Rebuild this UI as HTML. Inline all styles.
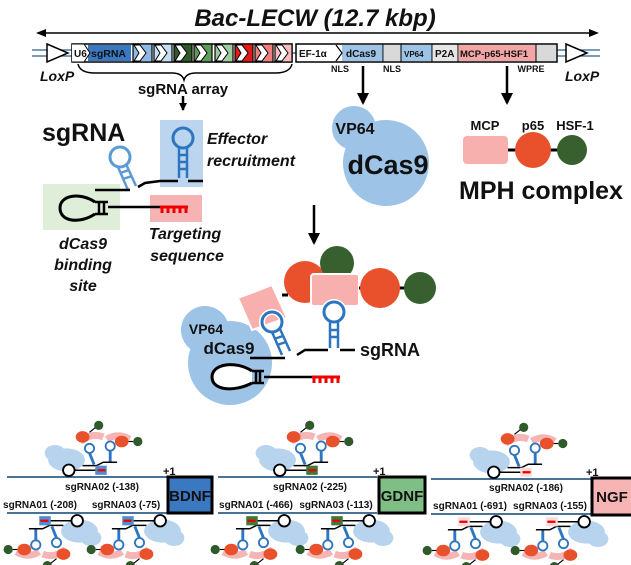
<!DOCTYPE html>
<html><head><meta charset="utf-8"><style>
html,body{margin:0;padding:0;background:#fff}
svg{display:block}
text{font-family:"Liberation Sans",Arial,sans-serif;font-weight:bold;fill:#111}
</style></head><body>
<svg width="631" height="565" viewBox="0 0 631 565" xmlns="http://www.w3.org/2000/svg">
<defs>
<marker id="ah" markerWidth="8" markerHeight="8" refX="7" refY="4" orient="auto" markerUnits="userSpaceOnUse"><path d="M0,0 L8,4 L0,8 Z" fill="#000"/></marker>
<marker id="ah2" markerWidth="12" markerHeight="12" refX="10" refY="6" orient="auto" markerUnits="userSpaceOnUse"><path d="M0,0 L12,6 L0,12 Z" fill="#000"/></marker>
<g id="mini">
  <ellipse cx="-30" cy="-14" rx="16" ry="10" fill="#b7d3ee"/>
  <ellipse cx="-40" cy="-20" rx="9" ry="7" fill="#b7d3ee"/>
  <path d="M-18,-30 q10,-8 20,-4" stroke="#f5b5b5" stroke-width="6" fill="none"/>
  <path d="M5,-32 q10,-6 20,0" stroke="#f5b5b5" stroke-width="6" fill="none"/>
  <ellipse cx="-16" cy="-34" rx="6" ry="5" fill="#e8512b"/>
  <ellipse cx="18" cy="-30" rx="6" ry="5" fill="#e8512b"/>
  <circle cx="-2" cy="-44" r="4" fill="#2f5a2a"/>
  <circle cx="32" cy="-30" r="4" fill="#2f5a2a"/>
  <line x1="-10" y1="-38" x2="-5" y2="-42" stroke="#000" stroke-width="1"/>
  <line x1="24" y1="-30" x2="28" y2="-30" stroke="#000" stroke-width="1"/>
  <circle cx="-10" cy="-24" r="4" fill="none" stroke="#2e75c0" stroke-width="1.6"/>
  <path d="M-10,-20 L-6,-10" stroke="#2e75c0" stroke-width="2.5"/>
  <circle cx="8" cy="-26" r="4" fill="none" stroke="#2e75c0" stroke-width="1.6"/>
  <path d="M8,-22 L8,-12" stroke="#2e75c0" stroke-width="2.5"/>
  <path d="M-16,-9 L-4,-9 L2,-12 L14,-12" stroke="#000" stroke-width="1.3" fill="none"/>
  <circle cx="-28" cy="-5" r="5" fill="#fff" stroke="#000" stroke-width="1.6"/>
  <path d="M-23,-5 L-2,-5" stroke="#000" stroke-width="1.3"/>
  <rect x="-5" y="-9" width="10" height="8" fill="currentColor"/>
  <line x1="-3" y1="-5" x2="4" y2="-5" stroke="#e00" stroke-width="2"/>
</g>
</defs>

<text x="315" y="26" font-size="24" font-style="italic" text-anchor="middle">Bac-LECW (12.7 kbp)</text>
<line x1="46" y1="33" x2="590" y2="33" stroke="#000" stroke-width="1.5"/>
<path d="M36,33 L46,29 L46,37 Z" fill="#000"/><path d="M599,33 L589,29 L589,37 Z" fill="#000"/>

<g stroke="#2e5f8a" stroke-width="1.3">
<line x1="32" y1="50" x2="72" y2="50"/><line x1="32" y1="56" x2="72" y2="56"/>
<line x1="557" y1="50" x2="600" y2="50"/><line x1="557" y1="56" x2="600" y2="56"/>
<line x1="290" y1="53" x2="296" y2="53"/>
</g>
<path d="M47,44 L68,53 L47,62 Z" fill="#fff" stroke="#000" stroke-width="1.5"/>
<path d="M566,44 L587,53 L566,62 Z" fill="#fff" stroke="#000" stroke-width="1.5"/>

<rect x="72" y="44" width="220" height="18" fill="#fff" stroke="#000" stroke-width="1.5"/>
<rect x="88" y="45" width="43" height="16" fill="#3a78c2"/>
<path d="M72,44 L84,44 L90,53 L84,62 L72,62" fill="#fff" stroke="#000" stroke-width="1"/>
<text x="74" y="57" font-size="10">U6</text>
<text x="91" y="57" font-size="10.5" fill="#fff">sgRNA</text>
<g stroke="#000" stroke-width="1.2">
<rect x="133" y="44" width="19" height="18" fill="#8fb8e3"/>
<rect x="154" y="44" width="18" height="18" fill="#c5dcf2"/>
<rect x="174" y="44" width="18" height="18" fill="#2f5a2a"/>
<rect x="194" y="44" width="18" height="18" fill="#5f9c5a"/>
<rect x="215" y="44" width="18" height="18" fill="#9fcc9c"/>
<rect x="235" y="44" width="18" height="18" fill="#e21a1a"/>
<rect x="255" y="44" width="18" height="18" fill="#ef7f7f"/>
<rect x="275" y="44" width="17" height="18" fill="#f7bcbc"/>
</g>
<g fill="#fff" stroke="#000" stroke-width="1">
<path d="M134,45 L140,45 L146,53 L140,61 L134,61 L139,53 Z"/>
<path d="M155,45 L161,45 L167,53 L161,61 L155,61 L160,53 Z"/>
<path d="M175,45 L181,45 L187,53 L181,61 L175,61 L180,53 Z"/>
<path d="M195,45 L201,45 L207,53 L201,61 L195,61 L200,53 Z"/>
<path d="M216,45 L222,45 L228,53 L222,61 L216,61 L221,53 Z"/>
<path d="M236,45 L242,45 L248,53 L242,61 L236,61 L241,53 Z"/>
<path d="M256,45 L262,45 L268,53 L262,61 L256,61 L261,53 Z"/>
<path d="M276,45 L282,45 L288,53 L282,61 L276,61 L281,53 Z"/>
</g>

<rect x="296" y="44" width="261" height="18" fill="#fff" stroke="#000" stroke-width="1.5"/>
<rect x="342" y="45" width="41" height="16" fill="#9dc3e6"/>
<rect x="384" y="45" width="17" height="16" fill="#d9d9d9"/>
<rect x="401" y="45" width="31" height="16" fill="#9dc3e6"/>
<rect x="433" y="45" width="25" height="16" fill="#e6e6e6"/>
<rect x="459" y="45" width="77" height="16" fill="#f4a6a6"/>
<rect x="536" y="45" width="20" height="16" fill="#d9d9d9"/>
<g stroke="#000" stroke-width="1"><line x1="383" y1="44" x2="383" y2="62"/><line x1="401" y1="44" x2="401" y2="62"/><line x1="432" y1="44" x2="432" y2="62"/><line x1="458" y1="44" x2="458" y2="62"/><line x1="536" y1="44" x2="536" y2="62"/></g>
<path d="M336,45 L342,53 L336,61" fill="none" stroke="#000" stroke-width="1.2"/>
<text x="299" y="57" font-size="10">EF-1α</text>
<text x="346" y="57" font-size="10">dCas9</text>
<text x="404" y="57" font-size="8">VP64</text>
<text x="435" y="57" font-size="10">P2A</text>
<text x="460" y="57" font-size="9.5">MCP-p65-HSF1</text>
<text x="340" y="72" font-size="9" text-anchor="middle">NLS</text>
<text x="392" y="72" font-size="9" text-anchor="middle">NLS</text>
<text x="531" y="72" font-size="9" text-anchor="middle">WPRE</text>
<text x="40" y="81" font-size="14" font-style="italic">LoxP</text>
<text x="565" y="81" font-size="14" font-style="italic">LoxP</text>

<path d="M78,64 Q80,73 95,73 L172,73 Q182,73 184,80 Q186,73 196,73 L275,73 Q290,73 292,64" fill="none" stroke="#000" stroke-width="1.5"/>
<text x="183" y="94" font-size="15" text-anchor="middle">sgRNA array</text>
<line x1="183" y1="96" x2="183" y2="110" stroke="#000" stroke-width="2.5" marker-end="url(#ah)"/>
<line x1="363" y1="66" x2="363" y2="103" stroke="#000" stroke-width="2.5" marker-end="url(#ah2)"/>
<line x1="507" y1="66" x2="507" y2="103" stroke="#000" stroke-width="2.5" marker-end="url(#ah2)"/>

<rect x="160" y="120" width="43" height="67" fill="#bcd5ee"/>
<rect x="43" y="184" width="77" height="46" fill="#dfeed9"/>
<rect x="150" y="195" width="52" height="27" fill="#f6b3b3"/>
<text x="42" y="141" font-size="25">sgRNA</text>
<text x="207" y="144" font-size="16" font-style="italic">Effector</text>
<text x="207" y="166" font-size="16" font-style="italic">recruitment</text>
<g fill="none" stroke="#2e75c0" stroke-width="3">
<circle cx="183" cy="138" r="10"/>
<circle cx="120" cy="157" r="10" stroke="#5b9bd5"/>
</g>
<g stroke="#2e75c0" stroke-width="2.5"><line x1="179" y1="147" x2="179" y2="178"/><line x1="187" y1="147" x2="187" y2="178"/>
<line x1="179" y1="155" x2="187" y2="155"/><line x1="179" y1="162" x2="187" y2="162"/><line x1="179" y1="169" x2="187" y2="169"/></g>
<g stroke="#5b9bd5" stroke-width="2.5"><line x1="118" y1="167" x2="128" y2="190"/><line x1="126" y1="164" x2="136" y2="186"/>
<line x1="120" y1="173" x2="129" y2="170"/><line x1="123" y1="179" x2="132" y2="176"/></g>
<path d="M95,190 L130,190" stroke="#000" stroke-width="2.5"/>
<path d="M138,187 L145,183 L160,181 L178,181 M188,181 L203,181" stroke="#000" stroke-width="2.5" fill="none"/>
<path d="M95,202 C80,192 60,195 60,208 C60,222 80,224 95,214" fill="none" stroke="#000" stroke-width="3"/>
<g stroke="#000" stroke-width="2.5"><line x1="95" y1="202" x2="108" y2="202"/><line x1="95" y1="214" x2="108" y2="214"/>
<line x1="99" y1="202" x2="99" y2="214"/><line x1="104" y1="202" x2="104" y2="214"/></g>
<line x1="108" y1="207" x2="160" y2="207" stroke="#000" stroke-width="2.5"/>
<path d="M160,207 L188,207 M162,207 v6 M168,207 v6 M174,207 v6 M180,207 v6 M186,207 v6" stroke="#e00" stroke-width="3"/>
<text x="185" y="239" font-size="16" font-style="italic" text-anchor="middle">Targeting</text>
<text x="187" y="261" font-size="16" font-style="italic" text-anchor="middle">sequence</text>
<text x="83" y="249" font-size="16" font-style="italic" text-anchor="middle">dCas9</text>
<text x="83" y="270" font-size="16" font-style="italic" text-anchor="middle">binding</text>
<text x="83" y="291" font-size="16" font-style="italic" text-anchor="middle">site</text>

<circle cx="386" cy="163" r="43" fill="#9dc3e6"/>
<circle cx="354" cy="128" r="22" fill="#9dc3e6"/>
<text x="355" y="134" font-size="16" text-anchor="middle">VP64</text>
<text x="388" y="174" font-size="27" text-anchor="middle">dCas9</text>

<rect x="463" y="136" width="45" height="28" rx="4" fill="#f8b0ae"/>
<line x1="508" y1="150" x2="560" y2="150" stroke="#000" stroke-width="3"/>
<circle cx="533" cy="150" r="18" fill="#e8512b"/>
<circle cx="572" cy="150" r="15" fill="#38602f"/>
<text x="485" y="130" font-size="13" text-anchor="middle">MCP</text>
<text x="533" y="130" font-size="13" text-anchor="middle">p65</text>
<text x="575" y="130" font-size="13" text-anchor="middle">HSF-1</text>
<text x="541" y="199" font-size="25" text-anchor="middle">MPH complex</text>

<line x1="314" y1="205" x2="314" y2="243" stroke="#000" stroke-width="2.5" marker-end="url(#ah2)"/>

<circle cx="230" cy="363" r="42" fill="#9dc3e6"/>
<circle cx="205" cy="330" r="24" fill="#9dc3e6"/>
<path d="M238,298 L272,285 L287,318 L252,330 Z" fill="#f8b0ae" stroke="#fff" stroke-width="2"/>
<circle cx="305" cy="282" r="21" fill="#e8512b"/>
<circle cx="337" cy="263" r="17" fill="#38602f"/>
<rect x="311" y="274" width="48" height="32" rx="3" fill="#f8b0ae" stroke="#fff" stroke-width="2"/>
<line x1="282" y1="295" x2="288" y2="295" stroke="#000" stroke-width="3"/>
<line x1="359" y1="288" x2="410" y2="288" stroke="#000" stroke-width="3"/>
<circle cx="380" cy="288" r="20" fill="#e8512b"/>
<circle cx="420" cy="288" r="16" fill="#38602f"/>
<text x="206" y="334" font-size="14" text-anchor="middle">VP64</text>
<text x="229" y="354" font-size="17" text-anchor="middle">dCas9</text>
<g fill="none" stroke="#fff" stroke-width="6"><circle cx="272" cy="322" r="10"/><circle cx="334" cy="312" r="10"/></g>
<g fill="none" stroke="#2e75c0" stroke-width="3"><circle cx="272" cy="322" r="10"/><circle cx="334" cy="312" r="10"/></g>
<g stroke="#2e75c0" stroke-width="2.5"><line x1="272" y1="332" x2="282" y2="355"/><line x1="280" y1="329" x2="290" y2="351"/>
<line x1="274" y1="339" x2="283" y2="336"/><line x1="277" y1="345" x2="286" y2="342"/>
<line x1="330" y1="321" x2="330" y2="348"/><line x1="338" y1="321" x2="338" y2="348"/>
<line x1="330" y1="330" x2="338" y2="330"/><line x1="330" y1="337" x2="338" y2="337"/></g>
<path d="M250,358 L285,358" stroke="#000" stroke-width="2.5"/>
<path d="M297,355 L305,350 L328,350 M340,350 L355,350" stroke="#000" stroke-width="2.5" fill="none"/>
<text x="360" y="356" font-size="18">sgRNA</text>
<path d="M252,371 C235,360 212,364 212,377 C212,391 235,392 252,383" fill="#fff" stroke="#000" stroke-width="3"/>
<g stroke="#000" stroke-width="2.5"><line x1="252" y1="371" x2="264" y2="371"/><line x1="252" y1="383" x2="264" y2="383"/>
<line x1="256" y1="371" x2="256" y2="383"/><line x1="260" y1="371" x2="260" y2="383"/></g>
<line x1="264" y1="377" x2="312" y2="377" stroke="#000" stroke-width="2.5"/>
<path d="M312,377 L340,377 M314,377 v6 M320,377 v6 M326,377 v6 M332,377 v6 M338,377 v6" stroke="#e00" stroke-width="3"/>

<g stroke="#2e5f8a" stroke-width="1.8">
<line x1="7" y1="477" x2="167" y2="477"/><line x1="7" y1="513" x2="167" y2="513"/>
<line x1="218" y1="477" x2="377" y2="477"/><line x1="218" y1="513" x2="377" y2="513"/>
<line x1="431" y1="479" x2="591" y2="479"/><line x1="431" y1="514" x2="591" y2="514"/>
</g>
<g stroke="#000" stroke-width="3">
<rect x="168" y="477" width="44" height="36" fill="#3a78c2"/>
<rect x="379" y="477" width="46" height="36" fill="#7fbf86"/>
<rect x="592" y="478" width="42" height="37" fill="#f7b4b4"/>
</g>
<text x="190" y="501" font-size="15" text-anchor="middle">BDNF</text>
<text x="402" y="501" font-size="15" text-anchor="middle">GDNF</text>
<text x="612" y="502" font-size="15" text-anchor="middle">NGF</text>
<text x="163" y="475" font-size="11">+1</text>
<text x="373" y="475" font-size="11">+1</text>
<text x="586" y="476" font-size="11">+1</text>
<g font-size="10">
<text x="102" y="490" text-anchor="middle">sgRNA02 (-138)</text>
<text x="40" y="508" text-anchor="middle">sgRNA01 (-208)</text>
<text x="126" y="508" text-anchor="middle">sgRNA03 (-75)</text>
<text x="310" y="490" text-anchor="middle">sgRNA02 (-225)</text>
<text x="256" y="508" text-anchor="middle">sgRNA01 (-466)</text>
<text x="336" y="508" text-anchor="middle">sgRNA03 (-113)</text>
<text x="526" y="491" text-anchor="middle">sgRNA02 (-186)</text>
<text x="470" y="509" text-anchor="middle">sgRNA01 (-691)</text>
<text x="550" y="509" text-anchor="middle">sgRNA03 (-155)</text>
</g>
<g color="#4f8fd0"><use href="#mini" transform="translate(101,476) scale(1.15)"/>
<use href="#mini" transform="translate(45,515) rotate(180) scale(1.15)"/>
<use href="#mini" transform="translate(128,515) rotate(180) scale(1.15)"/></g>
<g color="#3f7a3a"><use href="#mini" transform="translate(312,476) scale(1.15)"/>
<use href="#mini" transform="translate(252,515) rotate(180) scale(1.15)"/>
<use href="#mini" transform="translate(337,515) rotate(180) scale(1.15)"/></g>
<g color="#ffdada"><use href="#mini" transform="translate(526,478) scale(1.15)"/>
<use href="#mini" transform="translate(464,516) rotate(180) scale(1.15)"/>
<use href="#mini" transform="translate(552,516) rotate(180) scale(1.15)"/></g>
</svg>
</body></html>
